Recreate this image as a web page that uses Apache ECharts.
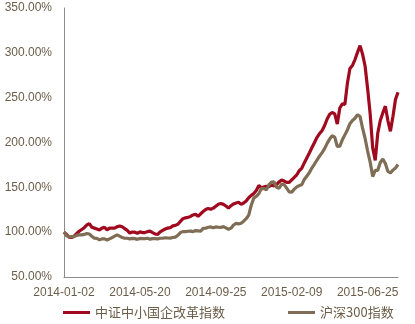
<!DOCTYPE html>
<html>
<head>
<meta charset="utf-8">
<script src="https://cdn.jsdelivr.net/npm/echarts@6/dist/echarts.min.js"></script>
<style>
html,body{margin:0;padding:0;background:#fff;}
#chart{width:415px;height:324px;}
</style>
</head>
<body>
<div id="chart"></div>
<script>
// trading-day step between samples
var dayStep = 3;
var tickLabels = ['2014-01-02', '2014-05-20', '2014-09-25', '2015-02-09', '2015-06-25'];
var seriesNames = ['中证中小国企改革指数', '沪深300指数'];

var reformIndex = [
  100, 97.5, 94.5, 94, 95.5, 98.5, 101, 103, 105, 108,
  109.5, 105.5, 104.5, 103.5, 102.5, 104.5, 105.5, 102.5, 104.5, 104.5,
  104.5, 106, 107, 106, 104, 102, 99, 100.2, 100, 98.8,
  100.4, 99.5, 99.5, 100.6, 101.2, 99.5, 98, 97.5, 100.4, 102,
  103.5, 104.5, 105, 107, 107.6, 108.8, 112, 115, 116, 116.5,
  117.6, 119.2, 120, 117.6, 120.5, 123, 125.2, 126.5, 125.5, 126.8,
  129, 131.2, 132, 131, 129.2, 126.8, 129.5, 131.5, 132.5, 133.3,
  131, 132.5, 134.8, 138.4, 141, 143, 146.5, 152, 149.5, 150.5,
  151, 150.8, 152.6, 151.6, 153, 156, 158.3, 157, 155.5, 155.5,
  158.4, 161.2, 164, 168.6, 171.5, 177.5, 183, 188.5, 194.4, 200,
  205.8, 210, 213.2, 219, 226.2, 231.5, 233.5, 232, 220.5, 238.5,
  243, 242.5, 266, 282.5, 286, 292.5, 300.5, 308, 298.5, 285,
  260, 232, 194, 180, 210.5, 224.5, 233, 240.5, 224.5, 212.5,
  229, 248, 256
];

var hs300 = [
  100, 96, 95, 95, 95, 96.5, 97, 97, 97.5, 98.5,
  98, 95.5, 93.2, 93, 91.5, 92.5, 92.5, 91.3, 92.5, 94,
  95.5, 97, 95.5, 94, 93.2, 93.2, 92.5, 93, 92.8, 92,
  93, 92.8, 92.8, 93.2, 92.2, 92.8, 92.8, 92.5, 93.2, 93.2,
  93.8, 93.5, 93.4, 94, 94.5, 96.5, 99.5, 100.6, 100.6, 101,
  101.2, 100.6, 101.8, 101.5, 101, 104.2, 104.4, 105.5, 105.8, 104.8,
  105.8, 105.5, 105.2, 106.2, 104.8, 103.2, 104.5, 108, 109.8, 109.2,
  110, 112.2, 115, 119, 130, 138, 140, 143, 148.5, 148.6,
  147.4, 153, 155.8, 156, 150, 149, 153.5, 153, 149.1, 145,
  144.5, 148, 150.5, 152, 153, 159, 162.5, 166.5, 171.8, 176,
  180.5, 184.8, 188.7, 193.2, 199, 203.8, 207.5, 206, 195.5, 196,
  203, 208.5, 214, 221, 224.5, 227, 231, 229, 216, 204.5,
  190.5, 178.2, 162, 169, 169, 177.8, 181.5, 176.5, 167.8, 166.2,
  169.2, 171.5, 175.5
];

function toPairs(arr) {
  return arr.map(function (v, i) { return [i * dayStep, v]; });
}

var textColor = '#6b5d48';
var axisColor = '#8c8c8c';
var labelFont = '"Liberation Sans", Arial, sans-serif';

var chart = echarts.init(document.getElementById('chart'), null, {renderer: 'canvas'});
chart.setOption({
  animation: false,
  backgroundColor: '#ffffff',
  grid: {left: 64, right: 17, top: 8, bottom: 47, containLabel: false},
  xAxis: {
    type: 'value',
    min: 0,
    max: (reformIndex.length - 1) * dayStep,
    interval: 90,
    axisLine: {show: true, lineStyle: {color: axisColor, width: 1}},
    axisTick: {show: false},
    splitLine: {show: false},
    axisLabel: {
      color: textColor, fontSize: 12, fontFamily: labelFont, margin: 10,
      showMaxLabel: false,
      formatter: function (v) {
        var k = v / 90;
        return (Math.abs(k - Math.round(k)) < 1e-6 && tickLabels[Math.round(k)]) ? tickLabels[Math.round(k)] : '';
      }
    }
  },
  yAxis: {
    type: 'value',
    min: 50,
    max: 350,
    interval: 50,
    axisLine: {show: true, lineStyle: {color: axisColor, width: 1}},
    axisTick: {show: false},
    splitLine: {show: false},
    axisLabel: {
      color: textColor, fontSize: 12, fontFamily: labelFont, margin: 12,
      padding: [4, 0, 0, 0],
      formatter: function (v) { return v.toFixed(2) + '%'; }
    }
  },
  legend: {
    left: 63,
    top: 306,
    padding: 0,
    itemGap: 63,
    itemWidth: 27,
    itemHeight: 3,
    icon: 'rect',
    textStyle: {color: textColor, fontSize: 13, fontFamily: '"Noto Sans CJK SC", sans-serif'},
    data: seriesNames
  },
  series: [
    {
      name: seriesNames[0],
      type: 'line',
      data: toPairs(reformIndex),
      showSymbol: false,
      symbol: 'none',
      lineStyle: {color: '#a00a1e', width: 3.2},
      itemStyle: {color: '#a00a1e'}
    },
    {
      name: seriesNames[1],
      type: 'line',
      data: toPairs(hs300),
      showSymbol: false,
      symbol: 'none',
      lineStyle: {color: '#7f6e55', width: 3.2},
      itemStyle: {color: '#7f6e55'}
    }
  ]
});
</script>
</body>
</html>
